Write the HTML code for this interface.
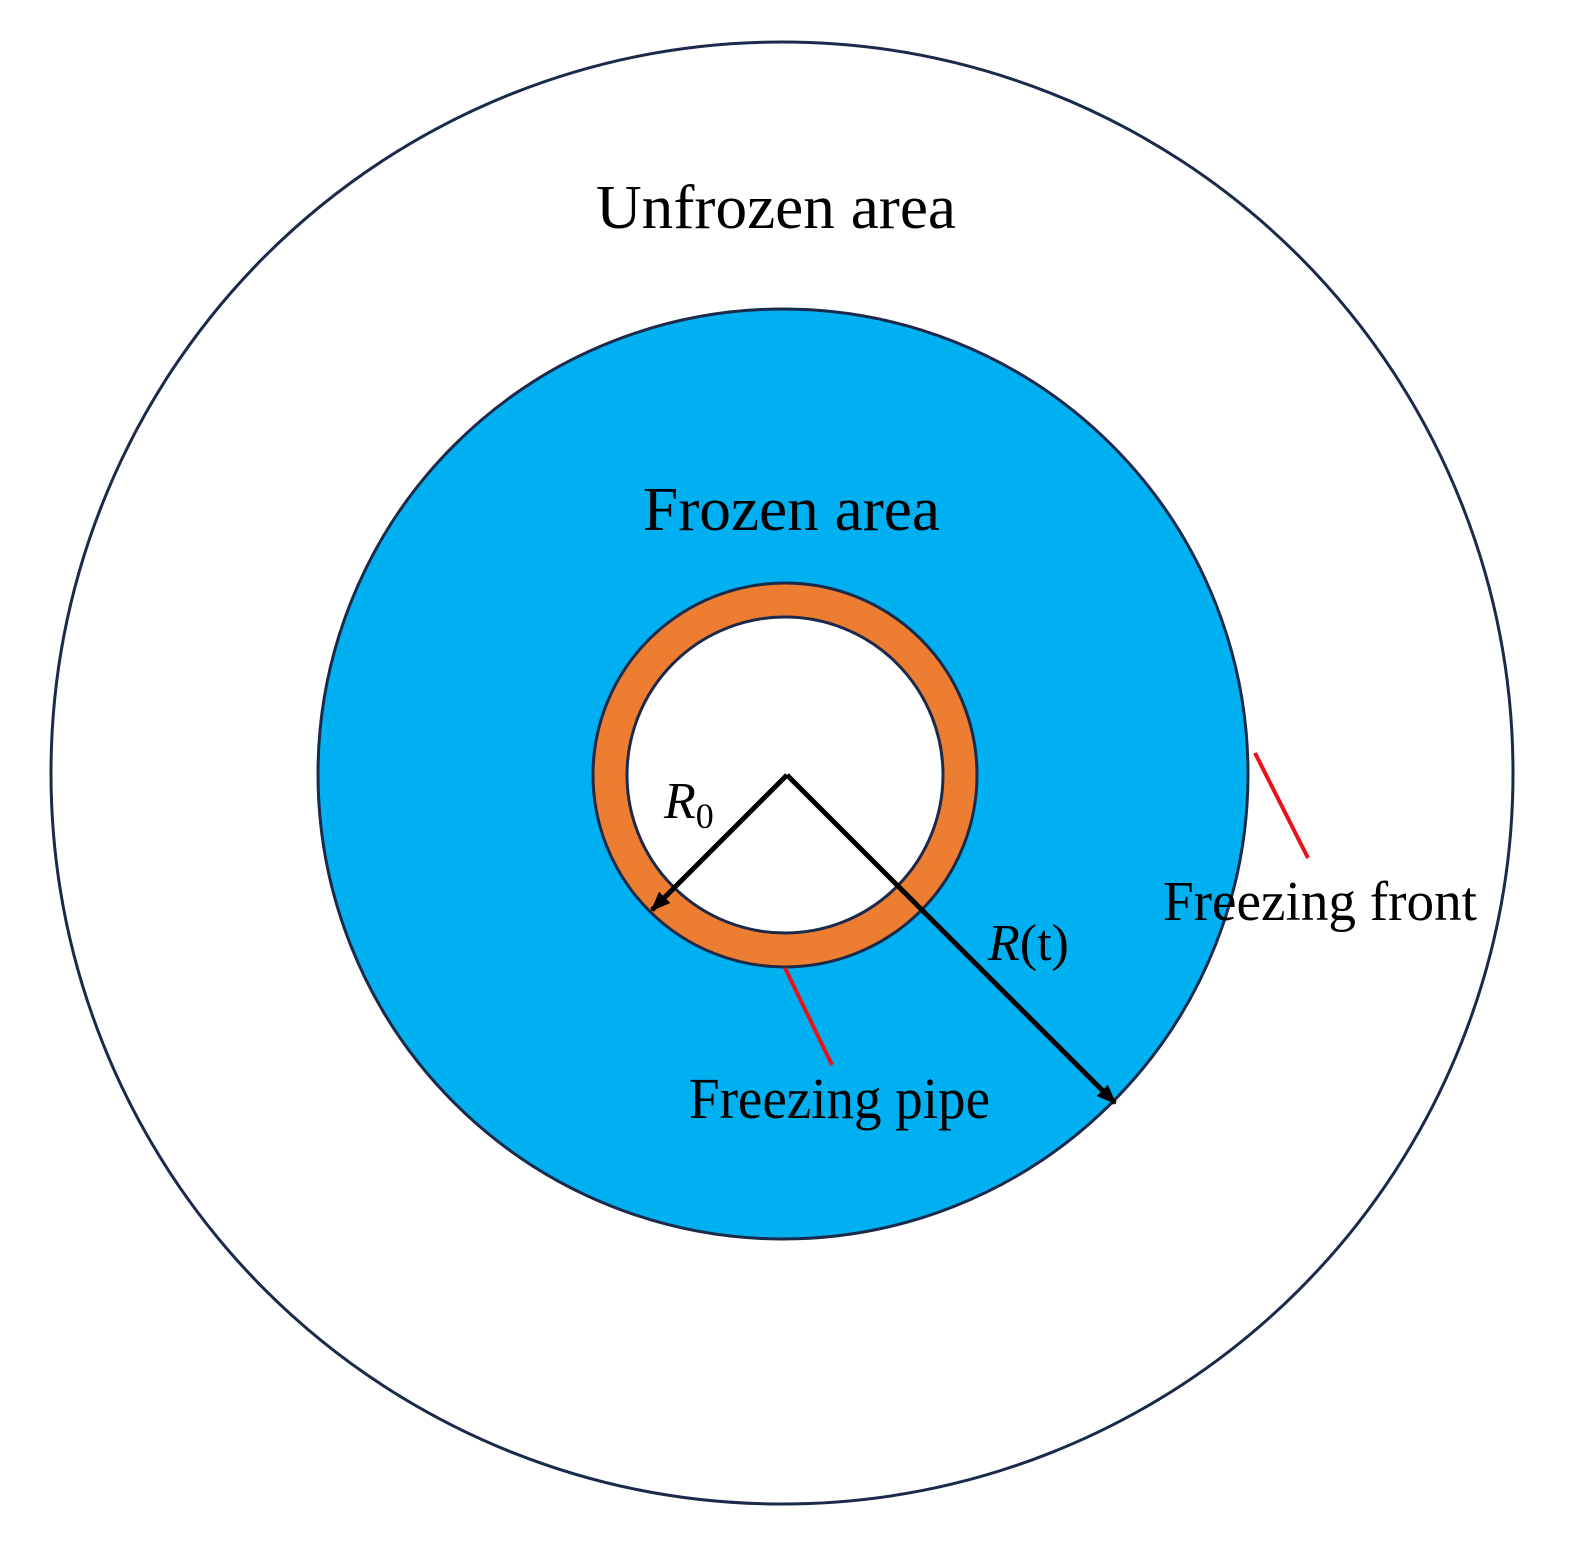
<!DOCTYPE html>
<html><head><meta charset="utf-8"><style>html,body{margin:0;padding:0;background:#fff}svg{display:block}</style></head>
<body>
<svg width="1576" height="1550" viewBox="0 0 1576 1550" xmlns="http://www.w3.org/2000/svg">
<defs><marker id="ah" markerWidth="10" markerHeight="10" refX="8" refY="5" orient="auto" markerUnits="userSpaceOnUse" viewBox="0 0 10 10"><path d="M0,0 L10,5 L0,10 z" fill="#000"/></marker>
<marker id="ah2" markerWidth="20" markerHeight="16" refX="18" refY="8" orient="auto" markerUnits="userSpaceOnUse" viewBox="0 0 20 16"><path d="M0,0 L20,8 L0,16 z" fill="#000"/></marker></defs>
<circle cx="782" cy="773" r="731" fill="#fff" stroke="#1b2a4a" stroke-width="3"/>
<circle cx="783" cy="774" r="465" fill="#00b0f0" stroke="#1b2a4a" stroke-width="3"/>
<circle cx="785" cy="775" r="175" fill="none" stroke="#ed7d31" stroke-width="34"/>
<circle cx="785" cy="775" r="192" fill="none" stroke="#1b2a4a" stroke-width="3"/>
<circle cx="785" cy="775" r="158" fill="#fff" stroke="#1b2a4a" stroke-width="3"/>
<line x1="787" y1="775" x2="652" y2="910" stroke="#000" stroke-width="5" marker-end="url(#ah2)"/>
<line x1="787" y1="775" x2="1115" y2="1103" stroke="#000" stroke-width="5" marker-end="url(#ah2)"/>
<line x1="1255" y1="753" x2="1308" y2="858" stroke="#e8141c" stroke-width="4"/>
<line x1="785" y1="968" x2="832" y2="1065" stroke="#e8141c" stroke-width="4"/>
<g font-family="Liberation Serif, serif" fill="#000">
<text x="596" y="228" font-size="62" textLength="360" lengthAdjust="spacingAndGlyphs">Unfrozen area</text>
<text x="643" y="530" font-size="62" textLength="297" lengthAdjust="spacingAndGlyphs">Frozen area</text>
<text x="1163" y="920" font-size="56" textLength="314" lengthAdjust="spacingAndGlyphs">Freezing front</text>
<text x="689" y="1118" font-size="58" textLength="301" lengthAdjust="spacingAndGlyphs">Freezing pipe</text>
<text x="664" y="818" font-size="52"><tspan font-style="italic">R</tspan><tspan font-size="36" dy="10">0</tspan></text>
<text x="988" y="960" font-size="52"><tspan font-style="italic">R</tspan>(t)</text>
</g>
</svg>
</body></html>
